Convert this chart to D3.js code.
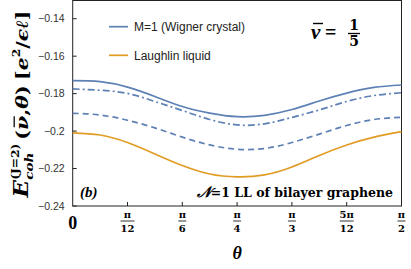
<!DOCTYPE html>
<html><head><meta charset="utf-8">
<script src="https://cdn.jsdelivr.net/npm/d3@7"></script>
<style>html,body{margin:0;padding:0;background:#fff;}svg{display:block;}</style>
</head><body>
<svg id="chart" width="411" height="269"></svg>
<script>
// ---- data ----
const thetaDeg = [0, 7.5, 15, 22.5, 30, 37.5, 45, 52.5, 60, 67.5, 75, 82.5, 90];
const wignerSolid = [-0.1731, -0.1736, -0.1765, -0.1815, -0.1869, -0.1904, -0.1923, -0.1916, -0.1885, -0.1839, -0.1797, -0.1767, -0.1754];
const wignerDashDot = [-0.1775, -0.1782, -0.1799, -0.1842, -0.1890, -0.1938, -0.1967, -0.1961, -0.1927, -0.1887, -0.1842, -0.1810, -0.1795];
const wignerDashed = [-0.1905, -0.1914, -0.1942, -0.1983, -0.2032, -0.2074, -0.2097, -0.2093, -0.2061, -0.2016, -0.1970, -0.1938, -0.1926];
const laughlin = [-0.2009, -0.2021, -0.2061, -0.2122, -0.2184, -0.2229, -0.2244, -0.2234, -0.2192, -0.2130, -0.2074, -0.2032, -0.2003];
const yTicks = [-0.14, -0.16, -0.18, -0.2, -0.22, -0.24];
const yTickLabels = ["\u22120.14", "\u22120.16", "\u22120.18", "\u22120.2", "\u22120.22", "\u22120.24"];
const xTicks = [0, 15, 30, 45, 60, 75, 90];
const xTickNum = ["0", "\u03c0", "\u03c0", "\u03c0", "\u03c0", "5\u03c0", "\u03c0"];
const xTickDen = ["", "12", "6", "4", "3", "12", "2"];
const legendLabels = ["M=1 (Wigner crystal)", "Laughlin liquid"];

// ---- layout ----
const svg = d3.select("#chart");
const L = 72.7, R = 401.5, T = 0.5, B = 206;
const x = d3.scaleLinear().domain([0, 90]).range([L, R]);
const y = d3.scaleLinear().domain([-0.24, -0.13]).range([B, 0]);
const blue = "#5e81b5", orange = "#e19c24";
const serif = "'DejaVu Serif','Liberation Serif',serif";
const serif2 = "'Liberation Serif','DejaVu Serif',serif";
const sans = "'Liberation Sans',Arial,sans-serif";

// frame
svg.append("rect").attr("x", L).attr("y", T).attr("width", R - L).attr("height", B - T)
  .attr("fill", "none").attr("stroke", "#222").attr("stroke-width", 1);

// y axis ticks
svg.append("g").selectAll("line").data(yTicks).join("line")
  .attr("x1", L).attr("x2", L + 4).attr("y1", d => y(d)).attr("y2", d => y(d))
  .attr("stroke", "#222").attr("stroke-width", 1);
svg.append("g").selectAll("text").data(yTicks).join("text")
  .attr("x", L - 8).attr("y", d => y(d)).attr("dy", "0.35em")
  .attr("text-anchor", "end").attr("font-family", sans).attr("font-size", 10.5).attr("fill", "#333")
  .text((d, i) => yTickLabels[i]);

// x axis ticks
svg.append("g").selectAll("line").data(xTicks.slice(1, -1)).join("line")
  .attr("x1", d => x(d)).attr("x2", d => x(d)).attr("y1", B).attr("y2", B - 4)
  .attr("stroke", "#222").attr("stroke-width", 1);
const xt = svg.append("g").selectAll("g").data(xTicks).join("g")
  .attr("transform", d => `translate(${x(d)},0)`);
xt.each(function (d, i) {
  const g = d3.select(this);
  if (xTickDen[i] === "") {
    g.append("text").attr("x", 0).attr("y", 228.5).attr("text-anchor", "middle")
      .attr("font-family", serif2).attr("font-weight", "bold").attr("font-size", 18).text(xTickNum[i]);
  } else {
    g.append("text").attr("x", 0).attr("y", 218).attr("text-anchor", "middle")
      .attr("font-family", serif).attr("font-weight", "bold").attr("font-size", 10).text(xTickNum[i]);
    g.append("text").attr("x", 0).attr("y", 232).attr("text-anchor", "middle")
      .attr("font-family", serif).attr("font-weight", "bold").attr("font-size", 10).text(xTickDen[i]);
    const w = xTickDen[i].length > 1 || xTickNum[i].length > 1 ? 14 : 8;
    g.append("line").attr("x1", -w / 2).attr("x2", w / 2).attr("y1", 221).attr("y2", 221)
      .attr("stroke", "#000").attr("stroke-width", 0.8);
  }
});
// x label
svg.append("text").attr("x", x(45)).attr("y", 259).attr("text-anchor", "middle")
  .attr("font-family", serif2).attr("font-weight", "bold").attr("font-style", "italic")
  .attr("font-size", 18).text("\u03b8");

// lines
const line = vals => d3.line().x((d, i) => x(thetaDeg[i])).y(d => y(d)).curve(d3.curveNatural)(vals);
const series = [
  {v: wignerSolid, c: blue, dash: null},
  {v: wignerDashDot, c: blue, dash: "7,3,2,3"},
  {v: wignerDashed, c: blue, dash: "6,4"},
  {v: laughlin, c: orange, dash: null}
];
svg.append("g").selectAll("path").data(series).join("path")
  .attr("d", s => line(s.v)).attr("fill", "none").attr("stroke", s => s.c)
  .attr("stroke-width", 1.7).attr("stroke-dasharray", s => s.dash);

// legend
const leg = svg.append("g").selectAll("g").data(legendLabels).join("g")
  .attr("transform", (d, i) => `translate(109,${26.7 + i * 28.6})`);
leg.append("line").attr("x1", 0).attr("x2", 19).attr("y1", 0).attr("y2", 0)
  .attr("stroke", (d, i) => i === 0 ? blue : orange).attr("stroke-width", 1.7);
leg.append("text").attr("x", 25).attr("y", 0).attr("dy", "0.35em")
  .attr("font-family", sans).attr("font-size", 12).attr("fill", "#222").text(d => d);

// nu = 1/5
const nu = svg.append("g");
nu.append("text").attr("x", 311).attr("y", 39).attr("font-family", serif2).attr("font-weight", "bold")
  .attr("font-style", "italic").attr("font-size", 21).text("\u03bd");
nu.append("line").attr("x1", 313).attr("x2", 323).attr("y1", 23.5).attr("y2", 23.5).attr("stroke", "#000").attr("stroke-width", 1.4);
nu.append("text").attr("x", 325).attr("y", 39).attr("font-family", serif2).attr("font-weight", "bold")
  .attr("font-size", 20).text("=");
nu.append("text").attr("x", 354).attr("y", 30).attr("text-anchor", "middle").attr("font-family", serif)
  .attr("font-weight", "bold").attr("font-size", 14).text("1");
nu.append("line").attr("x1", 348).attr("x2", 360).attr("y1", 33.5).attr("y2", 33.5).attr("stroke", "#000").attr("stroke-width", 1.3);
nu.append("text").attr("x", 354).attr("y", 46).attr("text-anchor", "middle").attr("font-family", serif)
  .attr("font-weight", "bold").attr("font-size", 14).text("5");

// (b)
svg.append("text").attr("x", 80).attr("y", 197).attr("font-family", serif2).attr("font-weight", "bold")
  .attr("font-style", "italic").attr("font-size", 15).text("(b)");
// N=1 LL of bilayer graphene
const ann = svg.append("text").attr("x", 393).attr("y", 197).attr("text-anchor", "end")
  .attr("font-family", serif).attr("font-weight", "bold").attr("font-size", 12.5);
ann.append("tspan").attr("font-style", "italic").attr("font-family", serif2).attr("font-size", 15).text("\ud835\udca9");
ann.append("tspan").text("=1 LL of bilayer graphene");

// y label (rotated)
const yl0 = svg.append("g").attr("transform", "translate(28,104) rotate(-90)");
const yl = yl0.append("g");
let cx = 0;
function piece(txt, size, italic, dy, advance = true) {
  const t = yl.append("text").attr("x", cx).attr("y", dy).attr("font-family", serif).attr("font-weight", "bold")
    .attr("font-style", italic ? "italic" : "normal").attr("font-size", size).text(txt);
  const w = t.node().getComputedTextLength();
  if (advance) cx += w;
  return w;
}
piece("E", 17, true, 0);
const x0 = cx;
const w1 = piece("coh", 10, true, 4, false);
const w2 = piece("(J=2)", 9, false, -8, false);
cx = x0 + Math.max(w1, w2) + 3;
piece("(", 15, false, 0);
const nx = cx;
piece("\u03bd", 15, true, 0);
yl.append("line").attr("x1", nx + 2).attr("x2", nx + 10).attr("y1", -12).attr("y2", -12).attr("stroke", "#000").attr("stroke-width", 1.1);
piece(", ", 15, false, 0);
piece("\u03b8", 15, true, 0);
piece(")", 15, false, 0);
cx += 4;
piece("[", 15, false, 0);
piece("e", 15, true, 0);
piece("2", 9, false, -7);
piece("/", 15, false, 0);
piece("\u03f5\u2113", 15, true, 0);
piece("]", 15, false, 0);
const sc = Math.min(1.15, 187 / cx);
const sx = 187 / cx;
yl.attr("transform", `scale(${sx},${sc}) translate(${-cx / 2},0)`);
</script>
</body></html>
